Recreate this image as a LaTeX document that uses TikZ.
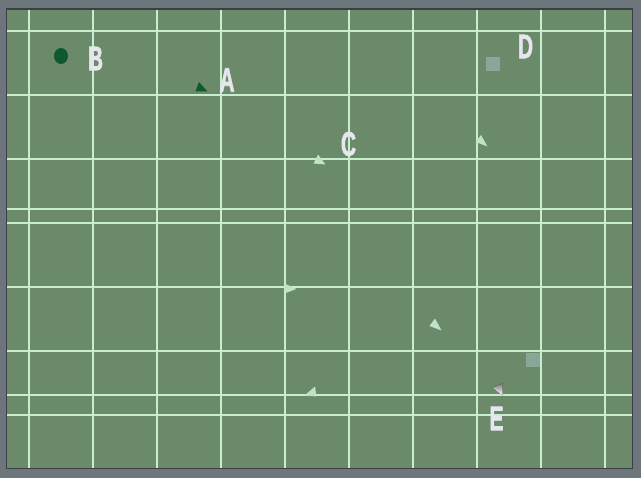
\documentclass[tikz,border=0pt]{standalone}
\usepackage{fontspec}
\newfontfamily\mapfont{Liberation Sans Bold}[FakeBold=2]
\definecolor{field}{RGB}{106,138,106}
\definecolor{gridline}{RGB}{200,238,208}
\definecolor{stone}{RGB}{108,118,124}
\definecolor{rim}{RGB}{60,64,66}
\definecolor{mint}{RGB}{192,226,200}
\definecolor{unit}{RGB}{14,88,50}
\definecolor{block}{RGB}{138,166,152}
\definecolor{shade}{RGB}{92,122,108}
\definecolor{letter}{RGB}{230,230,238}
\begin{document}
\begin{tikzpicture}[x=1pt,y=-1pt,
    lbl/.style={text=letter, inner sep=0pt, xscale=0.62, font=\mapfont\fontsize{34}{34}\selectfont},
    gridln/.style={gridline, line width=1.2pt},
    tri/.style={fill=mint}]
    % frame and field
    \fill[stone] (0,0) rectangle (641,478);
    \draw[fill=field, draw=rim, line width=1.5pt] (6.5,9) rectangle (632.5,468.5);
    % grid
    \foreach \gx in {29,93,157,221,285,349,413,477,541,605}
        \draw[gridln] (\gx,9.8) -- (\gx,467.7);
    \foreach \gy in {31,95,159,209,223,287,351,395,415}
        \draw[gridln] (7.3,\gy) -- (631.7,\gy);
    % markers
    \fill[unit] (61,56) ellipse (7 and 8);
    \fill[unit] (199,82) -- (195.5,91.5) -- (207.5,91.5) -- cycle;
    \fill[tri] (318,154.5) -- (313.5,163.5) -- (325.5,164.5) -- cycle;
    \fill[tri] (481,135) -- (475.5,142) -- (487.5,146.5) -- cycle;
    \fill[tri] (296.5,289) -- (284.5,283.5) -- (284.5,293.5) -- cycle;
    \fill[tri] (435,318.5) -- (429.5,326) -- (441.5,330.5) -- cycle;
    \fill[tri] (315,386.5) -- (304.5,395.5) -- (316.5,396.5) -- cycle;
    \fill[shade] (492.5,388) -- (502.5,383.5) -- (502.5,395.5) -- cycle;
    \fill[block] (486,57) rectangle (500,71);
    \fill[block] (526,353) rectangle (540,367);
    % labels
    \node[lbl] (labA) at (227,80) {A};
    \node[lbl] (labB) at (95.5,58.5) {B};
    \node[lbl] (labC) at (348.5,144) {C};
    \node[lbl] (labD) at (525.5,46.5) {D};
    \node[lbl] (labE) at (496.5,418.5) {E};
\end{tikzpicture}
\end{document}
